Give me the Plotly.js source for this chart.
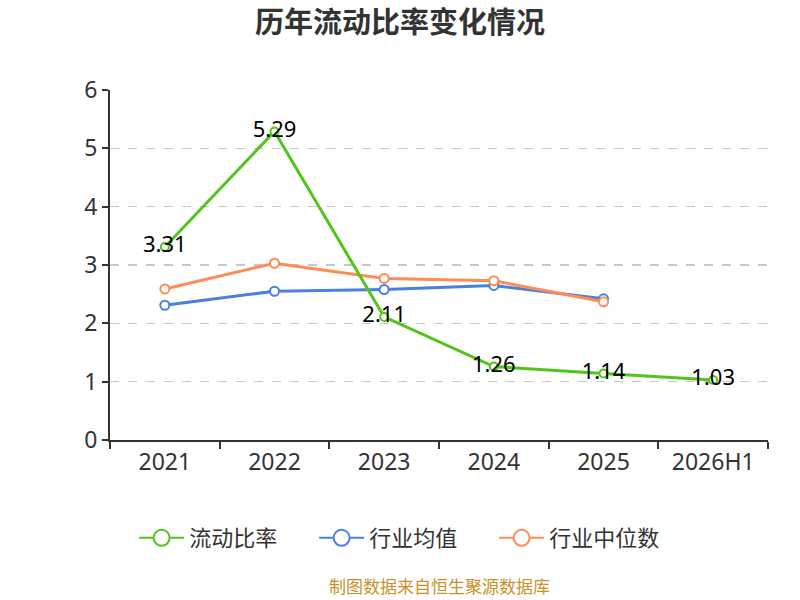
<!DOCTYPE html>
<html>
<head>
<meta charset="utf-8">
<script src="https://cdn.plot.ly/plotly-3.0.1.min.js"></script>
<style>
  body { margin: 0; background: #fff; }
  #chart { width: 800px; height: 600px; }
</style>
</head>
<body>
<div id="chart"></div>
<script>
const years = ["2021", "2022", "2023", "2024", "2025", "2026H1"];
const currentRatio = [3.31, 5.29, 2.11, 1.26, 1.14, 1.03];
const industryMean = [2.31, 2.55, 2.58, 2.65, 2.42, null];
const industryMedian = [2.59, 3.03, 2.77, 2.73, 2.37, null];

const FONT = "Noto Sans CJK SC, Noto Sans, sans-serif";
const NUM_FONT = "Noto Sans, Noto Sans CJK SC, sans-serif";
const GREEN = "#52c41a";
const BLUE = "#4a80e0";
const ORANGE = "#ff8c55";

const lineTrace = (name, y, color, size, withText) => ({
  x: years,
  y: y,
  name: name,
  type: "scatter",
  mode: withText ? "lines+markers+text" : "lines+markers",
  text: withText ? y.map((v) => v.toFixed(2)) : undefined,
  textposition: "middle center",
  textfont: { family: NUM_FONT, size: 22, color: "#000" },
  line: { color: color, width: 3 },
  marker: { color: "#fff", size: size, line: { color: color, width: 2 } },
  showlegend: false,
  cliponaxis: false,
  hoverinfo: "skip"
});

// legend-only entries so the legend circles come out large
const legendTrace = (name, color) => ({
  x: [null],
  y: [null],
  name: name,
  type: "scatter",
  mode: "lines+markers",
  line: { color: color, width: 2 },
  marker: { color: "#fff", size: 20, line: { color: color, width: 2 } }
});

const data = [
  lineTrace("行业均值", industryMean, BLUE, 9, false),
  lineTrace("行业中位数", industryMedian, ORANGE, 9, false),
  lineTrace("流动比率", currentRatio, GREEN, 8, true),
  legendTrace("流动比率", GREEN),
  legendTrace("行业均值", BLUE),
  legendTrace("行业中位数", ORANGE)
];

const layout = {
  width: 800,
  height: 600,
  margin: { t: 90, r: 32, b: 160, l: 110 },
  paper_bgcolor: "#fff",
  plot_bgcolor: "#fff",
  font: { family: FONT, color: "#333" },
  title: {
    text: "<b>历年流动比率变化情况</b>",
    font: { family: FONT, size: 29, color: "#333" },
    x: 0.5,
    xanchor: "center",
    y: 0.962,
    yanchor: "middle"
  },
  xaxis: {
    type: "category",
    tickson: "boundaries",
    ticks: "outside",
    ticklen: 7,
    tickcolor: "#333",
    tickwidth: 2,
    showline: true,
    linecolor: "#333",
    linewidth: 2,
    showgrid: false,
    zeroline: false,
    tickfont: { family: NUM_FONT, size: 23, color: "#333" },
    range: [-0.5, 5.5]
  },
  yaxis: {
    range: [0, 6],
    dtick: 1,
    ticks: "outside",
    ticklen: 6,
    tickcolor: "#333",
    tickwidth: 2,
    showline: true,
    linecolor: "#333",
    linewidth: 2,
    showgrid: true,
    gridcolor: "#c8c8c8",
    griddash: "dash",
    gridwidth: 1.5,
    zeroline: false,
    tickfont: { family: NUM_FONT, size: 23, color: "#333" }
  },
  showlegend: true,
  legend: {
    orientation: "h",
    x: 0.447,
    xanchor: "center",
    y: -0.22,
    yanchor: "top",
    itemwidth: 45,
    entrywidth: 120,
    font: { family: FONT, size: 22, color: "#333" },
    traceorder: "normal"
  },
  annotations: [
    {
      text: "制图数据来自恒生聚源数据库",
      xref: "paper",
      yref: "paper",
      x: 0.5,
      y: -0.415,
      xanchor: "center",
      yanchor: "middle",
      showarrow: false,
      font: { family: FONT, size: 17, color: "#c8922a" }
    }
  ]
};

Plotly.newPlot("chart", data, layout, { displayModeBar: false, staticPlot: true });
</script>
</body>
</html>
